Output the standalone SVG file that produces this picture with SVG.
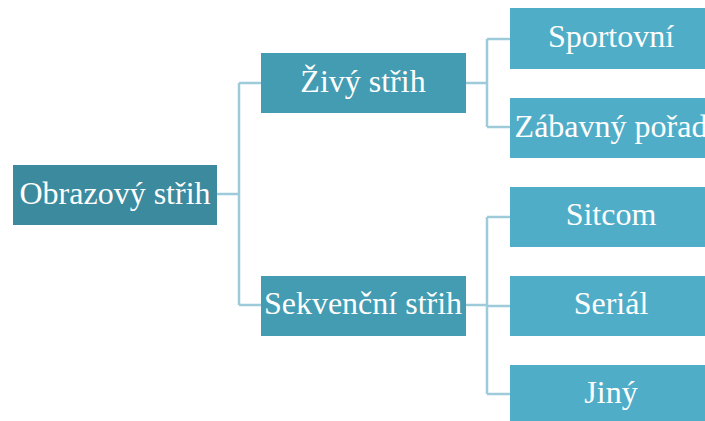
<svg xmlns="http://www.w3.org/2000/svg" width="705" height="421" viewBox="0 0 705 421">
<style>
text{font-family:"Liberation Serif","DejaVu Serif",serif;font-size:32px;fill:#ffffff;text-anchor:middle}
.root{fill:#3b8a9e}
.mid{fill:#439cb2}
.leaf{fill:#50adc7}
.c{fill:none;stroke:#9dcbda;stroke-width:2.5}
</style>
<rect width="705" height="421" fill="#ffffff"/>
<g id="connectors">
<path class="c" d="M217,194 H239 M239,83 V305 M239,83 H261 M239,305 H261"/>
<path class="c" d="M466,83 H487 M487,39 V127 M487,39 H510 M487,127 H510"/>
<path class="c" d="M466,305 H487 M487,217 V394 M487,217 H510 M487,306 H510 M487,394 H510"/>
</g>
<g id="root"><rect class="root" x="13" y="165" width="204" height="60"/><text x="115" y="204">Obrazový střih</text></g>
<g id="zivy"><rect class="mid" x="261" y="53" width="205" height="60"/><text x="363" y="92">Živý střih</text></g>
<g id="sekvencni"><rect class="mid" x="261" y="276" width="205" height="60"/><text x="363" y="314">Sekvenční střih</text></g>
<g id="sportovni"><rect class="leaf" x="510" y="8" width="204" height="61"/><text x="611" y="47">Sportovní</text></g>
<g id="zabavny"><rect class="leaf" x="510" y="98" width="204" height="60"/><text x="611" y="137">Zábavný pořad</text></g>
<g id="sitcom"><rect class="leaf" x="510" y="187" width="204" height="60"/><text x="611" y="225">Sitcom</text></g>
<g id="serial"><rect class="leaf" x="510" y="276" width="204" height="60"/><text x="611" y="314">Seriál</text></g>
<g id="jiny"><rect class="leaf" x="510" y="365" width="204" height="60"/><text x="611" y="403">Jiný</text></g>
</svg>
